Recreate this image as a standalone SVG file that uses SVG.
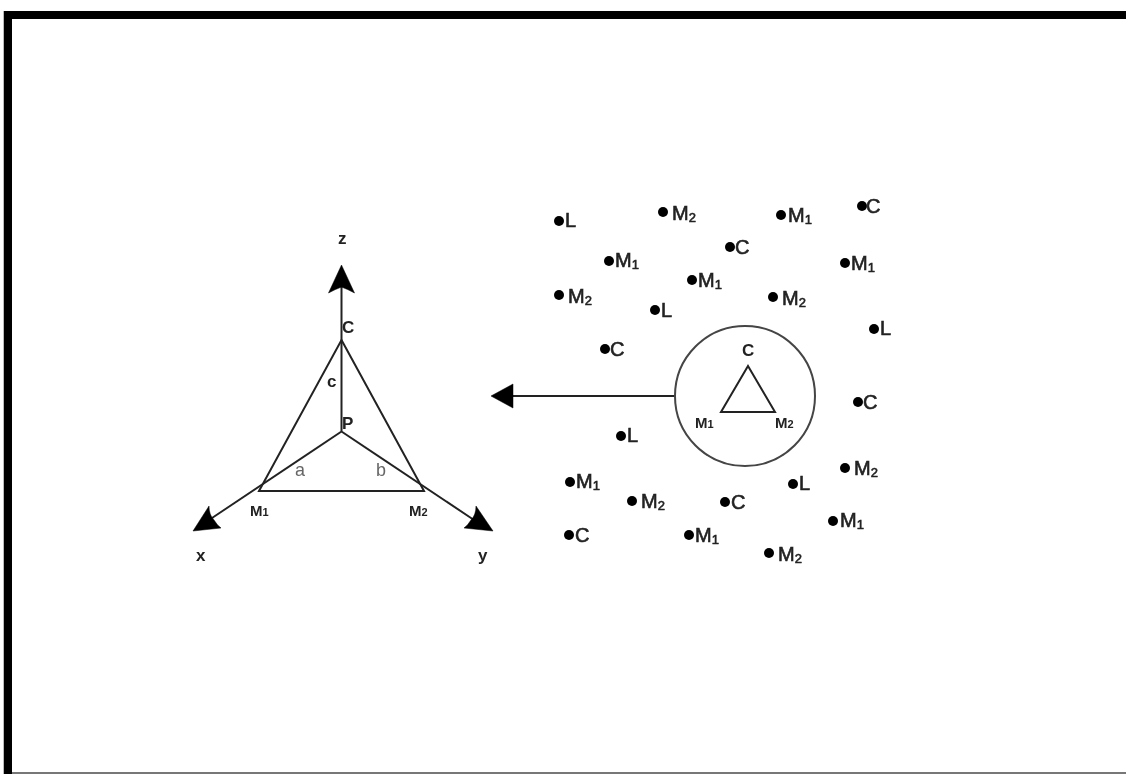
<svg xmlns="http://www.w3.org/2000/svg" width="1126" height="774" viewBox="0 0 1126 774">
<style>
text{font-family:"Liberation Sans",Arial,sans-serif;fill:#222}
.ln{fill:none;stroke:#222;stroke-width:2}
.ah{fill:#000;stroke:#000;stroke-width:.5}
.pt text{font-size:20px;stroke:#222;stroke-width:.6px}
.pt tspan{font-size:13px;baseline-shift:-2px}
.lb{font-size:15px;font-weight:bold}
.lb tspan{font-size:11px}
.lg{font-size:17px;font-weight:bold}
.gr{font-size:19px;fill:#666}
</style>
<defs>
<circle id="d" r="5" fill="#000"/>
<filter id="soft" x="-5%" y="-5%" width="110%" height="110%"><feGaussianBlur stdDeviation="0.5"/></filter>
</defs>
<rect width="1126" height="774" fill="#fff"/>
<path d="M8 774V15H1126" fill="none" stroke="#000" stroke-width="8"/>
<rect x="3" y="11" width="1" height="763" fill="#bbb"/>
<rect x="12" y="772" width="1114" height="2" fill="#777"/>
<g filter="url(#soft)">
<g id="connectors">
<path class="ln" d="M341.500 285V431.500M341.500 431.500L212 518M341.500 431.500L474 520"/>
<path class="ln" d="M510 396H675"/>
<path class="ah" d="M341.500 265L354.500 293Q347 289 341.500 287Q336 289 328.500 293Z"/>
<path class="ah" d="M193 531L209 506Q209 515 214 520Q217 525 221 528Z"/>
<path class="ah" d="M493 531L476 506Q476 515 471 520Q468 525 464 528Z"/>
<path class="ah" d="M491 396L513 384V408Z"/>
</g>
<g id="axes-triangle">
<path class="ln" d="M341.500 340L424 491H259Z"/>
<text class="lg" x="342" y="333">C</text>
<text class="lg" x="327" y="387">c</text>
<text class="lg" x="342" y="429">P</text>
<text class="gr" x="295" y="476" textLength="10" lengthAdjust="spacingAndGlyphs">a</text>
<text class="gr" x="376" y="476" textLength="10" lengthAdjust="spacingAndGlyphs">b</text>
<text class="lb" x="250" y="516">M<tspan>1</tspan></text>
<text class="lb" x="409" y="516">M<tspan>2</tspan></text>
<text class="lg" x="338" y="244">z</text>
<text class="lg" x="196" y="561">x</text>
<text class="lg" x="478" y="561">y</text>
</g>
<g id="zoom-circle">
<circle class="ln" cx="745" cy="396" r="70" style="stroke:#444"/>
<path class="ln" d="M748 366L775 412H721Z"/>
<text class="lg" x="742" y="356">C</text>
<text class="lb" x="695" y="428">M<tspan>1</tspan></text>
<text class="lb" x="775" y="428">M<tspan>2</tspan></text>
</g>
<g id="points" class="pt">
<g id="p1"><use href="#d" x="559" y="221"/><text x="565" y="227">L</text></g>
<g id="p2"><use href="#d" x="663" y="212"/><text x="672" y="220">M<tspan>2</tspan></text></g>
<g id="p3"><use href="#d" x="781" y="215"/><text x="788" y="222">M<tspan>1</tspan></text></g>
<g id="p4"><use href="#d" x="862" y="206"/><text x="866" y="213">C</text></g>
<g id="p5"><use href="#d" x="730" y="247"/><text x="735" y="254">C</text></g>
<g id="p6"><use href="#d" x="609" y="261"/><text x="615" y="267">M<tspan>1</tspan></text></g>
<g id="p7"><use href="#d" x="845" y="263"/><text x="851" y="270">M<tspan>1</tspan></text></g>
<g id="p8"><use href="#d" x="692" y="280"/><text x="698" y="287">M<tspan>1</tspan></text></g>
<g id="p9"><use href="#d" x="559" y="295"/><text x="568" y="303">M<tspan>2</tspan></text></g>
<g id="p10"><use href="#d" x="655" y="310"/><text x="661" y="317">L</text></g>
<g id="p11"><use href="#d" x="773" y="297"/><text x="782" y="305">M<tspan>2</tspan></text></g>
<g id="p12"><use href="#d" x="874" y="329"/><text x="880" y="335">L</text></g>
<g id="p13"><use href="#d" x="605" y="349"/><text x="610" y="356">C</text></g>
<g id="p14"><use href="#d" x="858" y="402"/><text x="863" y="409">C</text></g>
<g id="p15"><use href="#d" x="621" y="436"/><text x="627" y="442">L</text></g>
<g id="p16"><use href="#d" x="845" y="468"/><text x="854" y="475">M<tspan>2</tspan></text></g>
<g id="p17"><use href="#d" x="793" y="484"/><text x="799" y="490">L</text></g>
<g id="p18"><use href="#d" x="570" y="482"/><text x="576" y="488">M<tspan>1</tspan></text></g>
<g id="p19"><use href="#d" x="632" y="501"/><text x="641" y="508">M<tspan>2</tspan></text></g>
<g id="p20"><use href="#d" x="725" y="502"/><text x="731" y="509">C</text></g>
<g id="p21"><use href="#d" x="833" y="521"/><text x="840" y="527">M<tspan>1</tspan></text></g>
<g id="p22"><use href="#d" x="569" y="535"/><text x="575" y="542">C</text></g>
<g id="p23"><use href="#d" x="689" y="535"/><text x="695" y="542">M<tspan>1</tspan></text></g>
<g id="p24"><use href="#d" x="769" y="553"/><text x="778" y="561">M<tspan>2</tspan></text></g>
</g>
</g>
</svg>
